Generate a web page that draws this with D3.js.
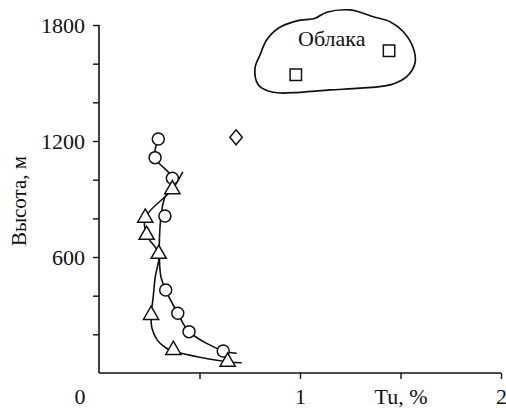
<!DOCTYPE html>
<html>
<head>
<meta charset="utf-8">
<script src="https://cdn.jsdelivr.net/npm/d3@7"></script>
<style>
  body { margin: 0; background: #fff; }
  svg { display: block; font-family: "Liberation Serif", "Times New Roman", serif; }
</style>
</head>
<body>
<div id="chart"></div>
<script>
// Points: [Tu %, height m]
const circlePoints = [[0.295, 1210], [0.279, 1114], [0.365, 1007], [0.328, 812], [0.332, 429], [0.392, 309], [0.448, 214], [0.618, 114]];
const trianglePoints = [[0.365, 950], [0.230, 803], [0.237, 714], [0.297, 616], [0.259, 300], [0.370, 119], [0.640, 58]];
const diamondPoints = [[0.682, 1219]];
const squarePoints = [[1.443, 1667], [0.979, 1543]];

// Fitted curves as drawn in the figure
const circleFit = [[0.295, 1210], [0.279, 1114], [0.365, 1007], [0.323, 895], [0.308, 808], [0.300, 619], [0.308, 498], [0.332, 429], [0.392, 309], [0.448, 214], [0.618, 114], [0.685, 102]];
const triangleFit = [[0.417, 1041], [0.365, 950], [0.230, 803], [0.237, 714], [0.297, 616], [0.280, 498], [0.268, 378], [0.259, 300], [0.264, 230], [0.290, 170], [0.330, 132], [0.370, 112], [0.640, 58], [0.710, 53]];

// Cloud outline
const cloudOutline = [[1.075, 1835], [1.133, 1866], [1.249, 1878], [1.299, 1866], [1.365, 1843], [1.448, 1817], [1.514, 1765], [1.564, 1680], [1.572, 1602], [1.531, 1533], [1.448, 1490], [1.299, 1473], [1.149, 1464], [1.000, 1452], [0.867, 1452], [0.793, 1490], [0.776, 1576], [0.801, 1645], [0.834, 1722], [0.892, 1783], [0.984, 1821]];
const cloudLabel = { tu: 1.158, h: 1693, text: 'Облака' };

const xTicks = [0.5, 1, 1.5, 2];
const xTickLabels = { 1: '1', 1.5: 'Tu, %', 2: '2' };
const yTicks = [200, 400, 600, 800, 1000, 1200, 1400, 1600, 1800];
const yTickLabels = [600, 1200, 1800];
const yTitle = 'Высота, м';

const W = 506, H = 410;
const ink = '#111';

const svg = d3.select('#chart').append('svg')
  .attr('width', W)
  .attr('height', H);

const x = d3.scaleLinear().domain([0, 2]).range([99, 501]);
const y = d3.scaleLinear().domain([0, 1800]).range([373, 25]);

// Axes
const xAxis = svg.append('g')
  .attr('transform', `translate(0,${y(0)})`)
  .call(d3.axisBottom(x).tickValues(xTicks).tickSize(6).tickSizeOuter(0)
    .tickFormat(d => xTickLabels[d] || ''))
  .attr('font-family', null)
  .attr('font-size', 22);
xAxis.select('.domain').attr('stroke', ink).attr('stroke-width', 1.6).attr('d', `M${x(0)},0H${x(2)}`);
xAxis.selectAll('.tick line').attr('stroke', ink).attr('stroke-width', 1.4);
xAxis.selectAll('.tick text')
  .attr('y', 31).attr('dy', 0)
  .attr('fill', ink);

svg.append('text')
  .attr('x', x(0) - 19)
  .attr('y', y(0) + 31)
  .attr('text-anchor', 'middle')
  .attr('fill', ink)
  .attr('font-size', 22)
  .text('0');

const yAxis = svg.append('g')
  .attr('transform', `translate(${x(0)},0)`)
  .call(d3.axisLeft(y).tickValues(yTicks).tickSize(6).tickSizeOuter(0).tickPadding(8)
    .tickFormat(d => yTickLabels.includes(d) ? d : ''))
  .attr('font-family', null)
  .attr('font-size', 22);
yAxis.select('.domain').attr('stroke', ink).attr('stroke-width', 1.6).attr('d', `M0,${y(0)}V${y(1800)}`);
yAxis.selectAll('.tick line').attr('stroke', ink).attr('stroke-width', 1.4);
yAxis.selectAll('.tick text').attr('fill', ink);

svg.append('text')
  .attr('transform', `translate(26,${(y(0) + y(1800)) / 2 + 2}) rotate(-90)`)
  .attr('text-anchor', 'middle')
  .attr('fill', ink)
  .attr('font-size', 21)
  .text(yTitle);

// Cloud
svg.append('path')
  .datum(cloudOutline)
  .attr('fill', 'none')
  .attr('stroke', ink)
  .attr('stroke-width', 1.7)
  .attr('d', d3.line().x(d => x(d[0])).y(d => y(d[1])).curve(d3.curveCatmullRomClosed.alpha(0.5)));

svg.append('text')
  .attr('x', x(cloudLabel.tu))
  .attr('y', y(cloudLabel.h))
  .attr('text-anchor', 'middle')
  .attr('fill', ink)
  .attr('font-size', 22)
  .text(cloudLabel.text);

// Fitted curves
const fitLine = d3.line().x(d => x(d[0])).y(d => y(d[1])).curve(d3.curveCatmullRom.alpha(0.5));
[circleFit, triangleFit].forEach(pts => {
  svg.append('path')
    .datum(pts)
    .attr('fill', 'none')
    .attr('stroke', ink)
    .attr('stroke-width', 1.6)
    .attr('d', fitLine);
});

// Markers
svg.selectAll('.circ')
  .data(circlePoints)
  .join('circle')
  .attr('cx', d => x(d[0]))
  .attr('cy', d => y(d[1]))
  .attr('r', 6)
  .attr('fill', '#fff')
  .attr('stroke', ink)
  .attr('stroke-width', 1.5);

svg.selectAll('.tri')
  .data(trianglePoints)
  .join('path')
  .attr('transform', d => `translate(${x(d[0])},${y(d[1])})`)
  .attr('d', d3.symbol(d3.symbolTriangle, 100))
  .attr('fill', '#fff')
  .attr('stroke', ink)
  .attr('stroke-width', 1.5);

svg.selectAll('.sq')
  .data(squarePoints)
  .join('path')
  .attr('transform', d => `translate(${x(d[0])},${y(d[1])})`)
  .attr('d', d3.symbol(d3.symbolSquare, 130))
  .attr('fill', '#fff')
  .attr('stroke', ink)
  .attr('stroke-width', 1.5);

svg.selectAll('.dia')
  .data(diamondPoints)
  .join('path')
  .attr('transform', d => `translate(${x(d[0])},${y(d[1])})`)
  .attr('d', 'M0,-7.5L6.2,0L0,7.5L-6.2,0Z')
  .attr('fill', '#fff')
  .attr('stroke', ink)
  .attr('stroke-width', 1.5);
</script>
</body>
</html>
